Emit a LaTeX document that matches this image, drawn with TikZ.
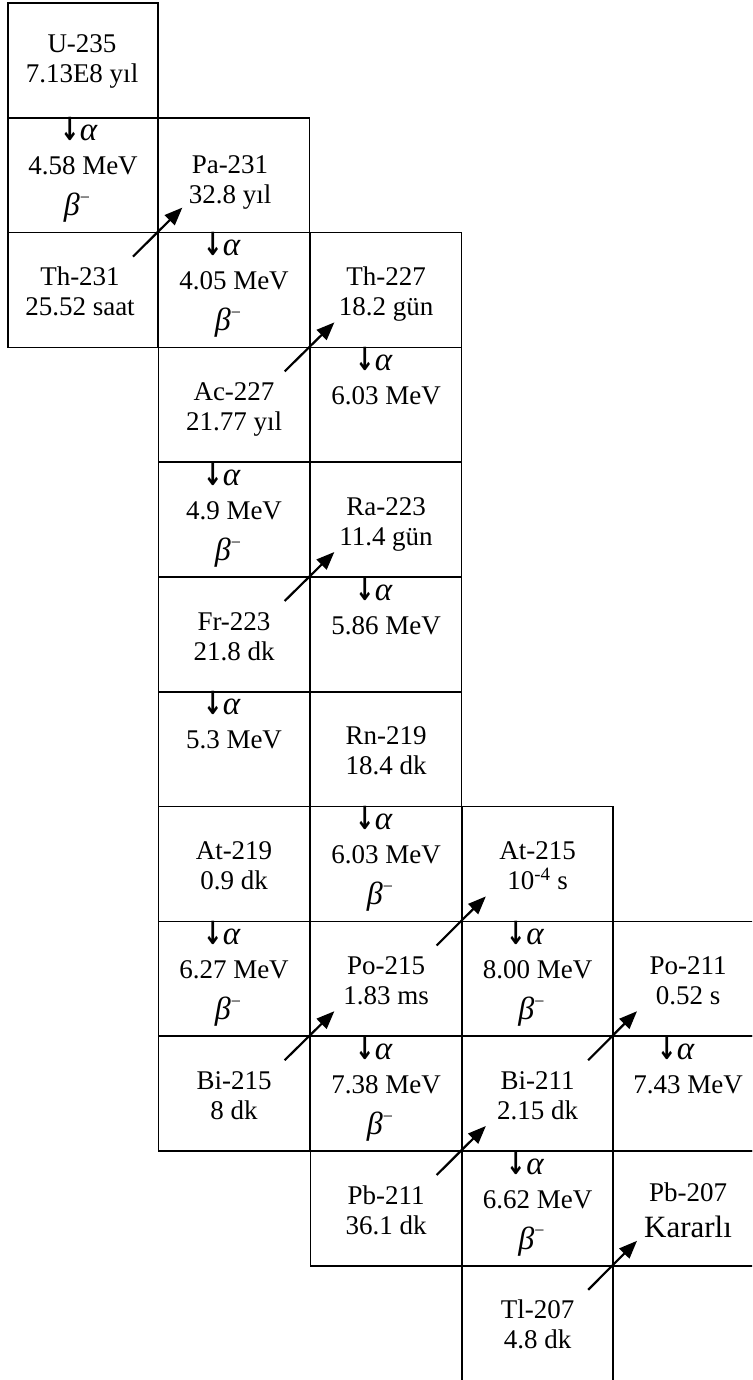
\documentclass[tikz,border=0pt]{standalone}
\usepackage{fontspec}
\setmainfont{Liberation Serif}
\newfontfamily\arrowfont{DejaVu Sans}
\usetikzlibrary{arrows.meta}
\tikzset{
  cell/.style={draw, line width=1.5pt, minimum width=151.3pt, minimum height=114.8pt, inner sep=0pt, outer sep=0pt},
  widecell/.style={cell, minimum width=170pt},
  txt/.style={anchor=base, inner sep=0pt, font=\fontsize{27}{30}\selectfont},
  bigtxt/.style={anchor=base, inner sep=0pt, font=\fontsize{31}{34}\selectfont},
  decay/.style={line width=2.2pt, -{Triangle[length=18pt,width=14pt]}}
}
\newcommand\DownArrow{{\arrowfont\bfseries\fontsize{29}{29}\selectfont\scalebox{0.8}[1.1]{↓}}}
\newcommand\AlphaSym{{\fontsize{33}{33}\selectfont\textit{α}}}
\newcommand\BetaSym{{\fontsize{32}{32}\selectfont\textit{β}\raisebox{0.38em}{\fontsize{18}{18}\selectfont −}}}
% #1 name, #2 x centre, #3 row top, #4 line 1, #5 line 2
\newcommand\NameText[5]{%
  \node[txt] (#1-a) at (#2, #3+53) {#4};
  \node[txt] (#1-b) at (#2, #3+83) {#5};
}
% #1 name, #2 x centre, #3 row top, #4 energy, #5 shift of the alpha label
\newcommand\AlphaText[5]{%
  \node[txt] (#1-a) at (#2+#5, #3+23) {\DownArrow\AlphaSym};
  \node[txt] (#1-b) at (#2, #3+57) {#4 MeV};
}
\newcommand\BetaText[3]{%
  \node[txt] (#1-c) at (#2-6, #3+98) {\BetaSym};
}
\begin{document}
\begin{tikzpicture}[x=1pt,y=-1pt]
\useasboundingbox (0,0) rectangle (752,1380);
\clip (0,0) rectangle (752,1380);
% ---- row 0
\node[cell, minimum width=150pt] (u235) at (83, 60.4) {};
\NameText{u235t}{82}{0}{U-235}{7.13E8 yıl}
% ---- row 1
\node[cell, minimum width=150pt] (a1) at (83, 175.2) {};
\AlphaText{a1t}{83}{117.8}{4.58}{-4}
\BetaText{a1t}{83}{117.8}
\node[cell] (pa231) at (234, 175.2) {};
\NameText{pa231t}{230}{121}{Pa-231}{32.8 yıl}
% ---- row 2
\node[cell, minimum width=150pt] (th231) at (83, 290) {};
\NameText{th231t}{80}{232.6}{Th-231}{25.52 saat}
\node[cell] (a2) at (234, 290) {};
\AlphaText{a2t}{234}{232.6}{4.05}{-12}
\BetaText{a2t}{234}{232.6}
\node[cell] (th227) at (386, 290) {};
\NameText{th227t}{386}{232.6}{Th-227}{18.2 gün}
% ---- row 3
\node[cell] (ac227) at (234, 404.8) {};
\NameText{ac227t}{234}{347.4}{Ac-227}{21.77 yıl}
\node[cell] (a3) at (386, 404.8) {};
\AlphaText{a3t}{386}{347.4}{6.03}{-12}
% ---- row 4
\node[cell] (a4) at (234, 519.6) {};
\AlphaText{a4t}{234}{462.2}{4.9}{-12}
\BetaText{a4t}{234}{462.2}
\node[cell] (ra223) at (386, 519.6) {};
\NameText{ra223t}{386}{462.2}{Ra-223}{11.4 gün}
% ---- row 5
\node[cell] (fr223) at (234, 634.4) {};
\NameText{fr223t}{234}{577}{Fr-223}{21.8 dk}
\node[cell] (a5) at (386, 634.4) {};
\AlphaText{a5t}{386}{577}{5.86}{-12}
% ---- row 6
\node[cell] (a6) at (234, 749.2) {};
\AlphaText{a6t}{234}{691.8}{5.3}{-12}
\node[cell] (rn219) at (386, 749.2) {};
\NameText{rn219t}{386}{691.8}{Rn-219}{18.4 dk}
% ---- row 7
\node[cell] (at219) at (234, 864) {};
\NameText{at219t}{234}{806.6}{At-219}{0.9 dk}
\node[cell] (a7) at (386, 864) {};
\AlphaText{a7t}{386}{806.6}{6.03}{-12}
\BetaText{a7t}{386}{806.6}
\node[cell] (at215) at (537.5, 864) {};
\NameText{at215t}{537.5}{806.6}{At-215}{10\textsuperscript{-4} s}
% ---- row 8
\node[cell] (a8) at (234, 978.8) {};
\AlphaText{a8t}{234}{921.4}{6.27}{-12}
\BetaText{a8t}{234}{921.4}
\node[cell] (po215) at (386, 978.8) {};
\NameText{po215t}{386}{921.4}{Po-215}{1.83 ms}
\node[cell] (a9) at (537.5, 978.8) {};
\AlphaText{a9t}{537.5}{921.4}{8.00}{-12}
\BetaText{a9t}{537.5}{921.4}
\node[widecell] (po211) at (698, 978.8) {};
\NameText{po211t}{688}{921.4}{Po-211}{0.52 s}
% ---- row 9
\node[cell] (bi215) at (234, 1093.6) {};
\NameText{bi215t}{234}{1036.2}{Bi-215}{8 dk}
\node[cell] (a10) at (386, 1093.6) {};
\AlphaText{a10t}{386}{1036.2}{7.38}{-12}
\BetaText{a10t}{386}{1036.2}
\node[cell] (bi211) at (537.5, 1093.6) {};
\NameText{bi211t}{537.5}{1036.2}{Bi-211}{2.15 dk}
\node[widecell] (a11) at (698, 1093.6) {};
\AlphaText{a11t}{688}{1036.2}{7.43}{-12}
% ---- row 10
\node[cell] (pb211) at (386, 1208.4) {};
\NameText{pb211t}{386}{1151}{Pb-211}{36.1 dk}
\node[cell] (a12) at (537.5, 1208.4) {};
\AlphaText{a12t}{537.5}{1151}{6.62}{-12}
\BetaText{a12t}{537.5}{1151}
\node[widecell] (pb207) at (698, 1208.4) {};
\node[txt] (pb207-a) at (688, 1151+50) {Pb-207};
\node[bigtxt] (pb207-b) at (688, 1151+86) {Kararlı};
% ---- row 11
\node[cell, minimum height=140pt] (tl207) at (537.5, 1335.8) {};
\NameText{tl207t}{537.5}{1265.8}{Tl-207}{4.8 dk}
% ---- beta decays
\draw[decay] ([shift={(-25,24)}]th231.north east) -- ([shift={(24,-25)}]pa231.south west);
\draw[decay] ([shift={(-25,24)}]ac227.north east) -- ([shift={(24,-25)}]th227.south west);
\draw[decay] ([shift={(-25,24)}]fr223.north east) -- ([shift={(24,-25)}]ra223.south west);
\draw[decay] ([shift={(-25,24)}]bi215.north east) -- ([shift={(24,-25)}]po215.south west);
\draw[decay] ([shift={(-25,24)}]po215.north east) -- ([shift={(24,-25)}]at215.south west);
\draw[decay] ([shift={(-25,24)}]bi211.north east) -- ([shift={(24,-25)}]po211.south west);
\draw[decay] ([shift={(-25,24)}]pb211.north east) -- ([shift={(24,-25)}]bi211.south west);
\draw[decay] ([shift={(-25,24)}]tl207.north east) -- ([shift={(24,-25)}]pb207.south west);
\end{tikzpicture}
\end{document}
